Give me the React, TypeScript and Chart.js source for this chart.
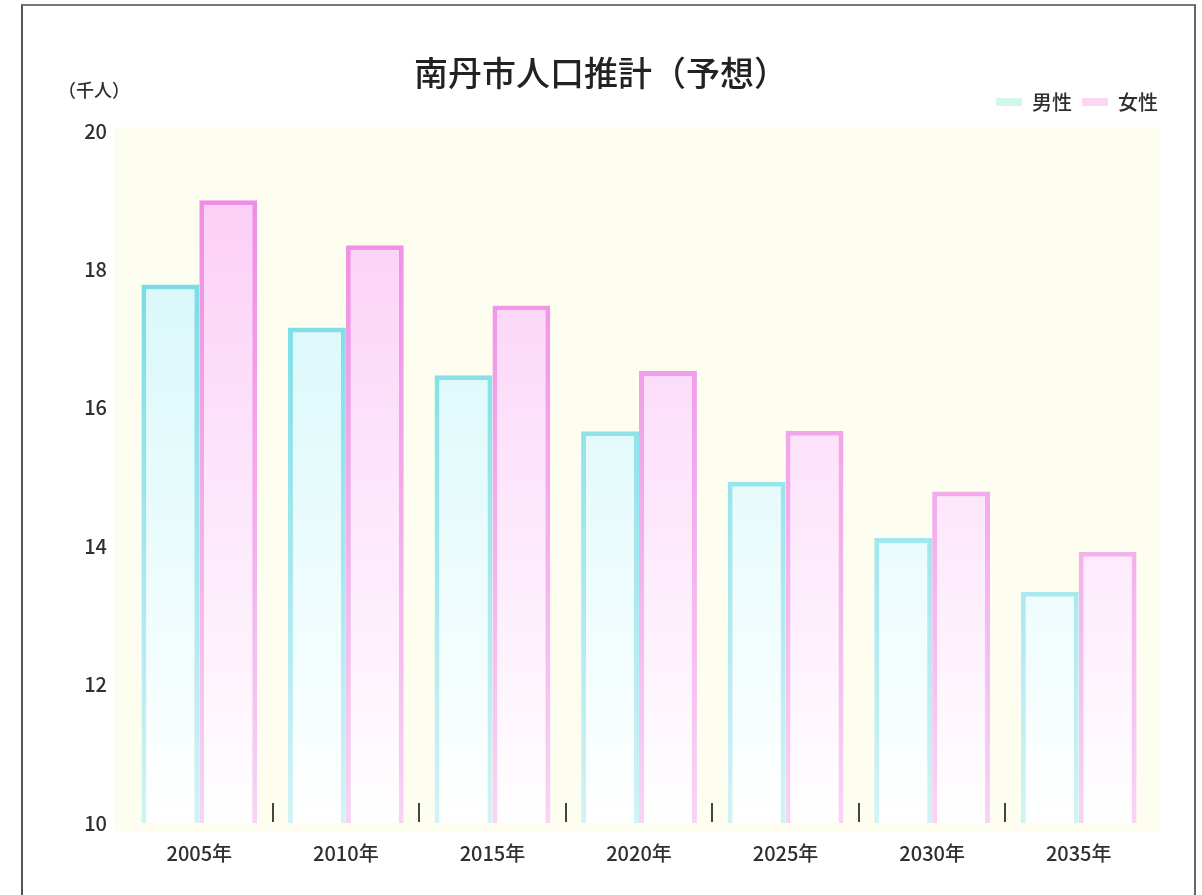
import React, { useEffect, useRef } from 'react';
import { Chart, registerables } from 'chart.js';

Chart.register(...registerables);

const categories = ['2005年', '2010年', '2015年', '2020年', '2025年', '2030年', '2035年'];
const maleValues = [17.78, 17.16, 16.47, 15.66, 14.93, 14.12, 13.34];
const femaleValues = [19.0, 18.35, 17.48, 16.53, 15.67, 14.79, 13.92];
const seriesLabels = ['男性', '女性'];
const titleText = '南丹市人口推計（予想）';
const unitText = '（千人）';
const yMin = 10;
const yMax = 20;
const yStep = 2;

const FONT = '"Noto Sans CJK JP", "Noto Sans", sans-serif';
const TEXT = '#2f2f2f';

type Stop = [number, string];

const makeGradient = (stops: Stop[]) => (ctx: any) => {
  const chart = ctx.chart;
  const area = chart.chartArea;
  if (!area) return stops[0][1];
  const g = chart.ctx.createLinearGradient(0, area.top, 0, area.bottom);
  stops.forEach(([o, c]) => g.addColorStop(o, c));
  return g;
};

const maleFill: Stop[] = [[0, '#d0f6f9'], [0.5, '#e6fbfc'], [1, '#ffffff']];
const maleBorder: Stop[] = [[0, '#62d7e1'], [0.6, '#a2e7ee'], [1, '#d2f3f6']];
const femaleFill: Stop[] = [[0, '#fcc9f6'], [0.5, '#fde5fb'], [1, '#ffffff']];
const femaleBorder: Stop[] = [[0, '#ee86e5'], [0.6, '#f3b0ed'], [1, '#f8d4f4']];
const legendSwatches = ['#d2f5ee', '#fbd6f5'];

const backgroundPlugin = {
  id: 'plotBackground',
  beforeDraw(chart: any) {
    const { ctx, chartArea: a, width, height } = chart;
    ctx.save();
    ctx.fillStyle = '#ffffff';
    ctx.fillRect(0, 0, width, height);
    if (a) {
      ctx.fillStyle = '#fefef0';
      ctx.fillRect(a.left - 12, a.top - 4, a.right - a.left + 20, a.bottom - a.top + 12);
    }
    ctx.restore();
  },
};

const unitPlugin = {
  id: 'unitLabel',
  afterDraw(chart: any) {
    const { ctx, chartArea: a } = chart;
    if (!a) return;
    ctx.save();
    ctx.font = `500 18px ${FONT}`;
    ctx.fillStyle = TEXT;
    ctx.textAlign = 'center';
    ctx.textBaseline = 'middle';
    ctx.fillText(unitText, a.left - 32, a.top - 41);
    ctx.restore();
  },
};

export default function App() {
  const canvasRef = useRef<HTMLCanvasElement | null>(null);

  useEffect(() => {
    const canvas = canvasRef.current;
    if (!canvas) return;
    const chart = new Chart(canvas, {
      type: 'bar',
      data: {
        labels: categories,
        datasets: [
          {
            label: seriesLabels[0],
            data: maleValues,
            backgroundColor: makeGradient(maleFill),
            borderColor: makeGradient(maleBorder),
            borderWidth: 5,
            borderSkipped: 'bottom',
            categoryPercentage: 0.79,
            barPercentage: 1.0,
          },
          {
            label: seriesLabels[1],
            data: femaleValues,
            backgroundColor: makeGradient(femaleFill),
            borderColor: makeGradient(femaleBorder),
            borderWidth: 5,
            borderSkipped: 'bottom',
            categoryPercentage: 0.79,
            barPercentage: 1.0,
          },
        ],
      },
      options: {
        responsive: false,
        animation: false,
        devicePixelRatio: 1,
        layout: { padding: { top: 0, left: 34, right: 34, bottom: 12 } },
        plugins: {
          tooltip: { enabled: false },
          title: {
            display: true,
            text: titleText,
            color: '#222222',
            font: { family: FONT, size: 34, weight: '500' },
            padding: { top: 52.6, bottom: -11.4 },
          },
          legend: {
            display: true,
            position: 'top',
            align: 'end',
            labels: {
              boxWidth: 26,
              boxHeight: 8,
              padding: 10,
              color: TEXT,
              font: { family: FONT, size: 20, weight: '500' },
              generateLabels: (chart: any) =>
                chart.data.datasets.map((ds: any, i: number) => ({
                  text: ds.label,
                  fillStyle: legendSwatches[i],
                  strokeStyle: legendSwatches[i],
                  lineWidth: 0,
                  hidden: false,
                  datasetIndex: i,
                  fontColor: TEXT,
                })),
            },
          },
          subtitle: {
            display: true,
            text: '',
            weight: 500,
            color: 'rgba(0,0,0,0)',
            font: { size: 1 },
            padding: { top: 0, bottom: 7.8 },
          },
        },
        scales: {
          x: {
            type: 'category',
            offset: true,
            grid: {
              display: true,
              drawOnChartArea: true,
              drawTicks: false,
              offset: true,
              lineWidth: 2,
              color: (c: any) => (c.type === 'tick' && c.index > 0 ? '#444444' : 'rgba(0,0,0,0)'),
            },
            border: { display: false, dash: [0, 672, 19, 2000] },
            ticks: {
              color: TEXT,
              padding: 18,
              font: { family: FONT, size: 20, weight: '500' },
              maxRotation: 0,
            },
          },
          y: {
            type: 'linear',
            position: 'left',
            min: yMin,
            max: yMax,
            grid: { display: false, drawTicks: false },
            border: { display: false },
            ticks: {
              stepSize: yStep,
              color: TEXT,
              padding: 19,
              font: { family: FONT, size: 20, weight: '500' },
            },
            afterFit: (s: any) => {
              s.width = 92;
            },
          },
          yRight: {
            type: 'linear',
            position: 'right',
            display: true,
            grid: { display: false, drawTicks: false },
            border: { display: false },
            ticks: { display: false },
            afterFit: (s: any) => {
              s.width = 16;
            },
          },
        },
      },
      plugins: [backgroundPlugin, unitPlugin],
    } as any);
    return () => chart.destroy();
  }, []);

  return (
    <div
      style={{
        position: 'absolute',
        left: 0,
        top: 0,
        width: 1202,
        height: 895,
        overflow: 'hidden',
        background: '#ffffff',
      }}
    >
      <canvas ref={canvasRef} width={1202} height={895} style={{ display: 'block', width: 1202, height: 895 }} />
      <div
        style={{
          position: 'absolute',
          left: 21,
          top: 4,
          width: 1175,
          height: 920,
          boxSizing: 'border-box',
          borderTop: '2px solid #777777',
          borderLeft: '2px solid #555555',
          borderRight: '2px solid #666666',
          pointerEvents: 'none',
        }}
      />
    </div>
  );
}
